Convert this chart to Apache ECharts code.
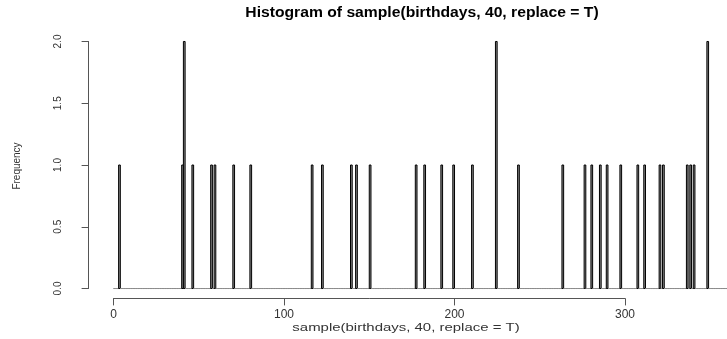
<!DOCTYPE html>
<html>
<head>
<meta charset="utf-8">
<script src="https://cdn.jsdelivr.net/npm/echarts@6/dist/echarts.min.js"></script>
<style>
  html, body { margin: 0; padding: 0; background: #fff; }
  #chart { width: 727px; height: 339px; }
</style>
</head>
<body>
<div id="chart"></div>
<script>
// Days drawn by sample(birthdays, 40, replace = T); a day drawn twice is listed twice
const sampledDays = [4, 41, 42, 42, 47, 58, 60, 71, 81, 117, 123, 140, 143, 151, 178, 183,
  193, 200, 211, 225, 225, 238, 264, 277, 281, 286, 290, 298, 308, 312, 321, 323,
  337, 339, 341, 349, 349];
// One histogram cell per day of the year, right-closed: (k, k + 1]
const firstBreak = 0;
const lastBreak = 365;
const xTicks = [0, 100, 200, 300];
const yTicks = [0, 0.5, 1, 1.5, 2];

const mainTitle = 'Histogram of sample(birthdays, 40, replace = T)';
const xLabel = 'sample(birthdays, 40, replace = T)';
const yLabel = 'Frequency';

// Count the draws in each cell
const cells = [];
for (let lo = firstBreak; lo < lastBreak; lo++) {
  const hi = lo + 1;
  const n = sampledDays.filter(d => d > lo && d <= hi).length;
  cells.push([lo, hi, n]);
}

const font = '"Liberation Sans", Arial, sans-serif';
const chart = echarts.init(document.getElementById('chart'), null, { renderer: 'canvas' });

chart.setOption({
  backgroundColor: '#ffffff',
  animation: false,
  grid: [
    // plotting region (R extends the data range by 4 %)
    { left: 88.6, right: 0, top: 31.6, bottom: 40.6 },
    // y axis, drawn from the first to the last tick
    { left: 88.6, width: 100, top: 41.5, height: 247 },
    // x axis, drawn from the first to the last tick
    { left: 113.5, width: 511.5, top: 31.6, bottom: 40.6 }
  ],
  xAxis: [
    { gridIndex: 0, type: 'value', min: -14.6, max: 359.8, show: false },
    { gridIndex: 1, type: 'value', min: 0, max: 1, show: false },
    {
      gridIndex: 2, type: 'value', min: xTicks[0], max: xTicks[xTicks.length - 1], interval: 100,
      position: 'bottom',
      axisLine: { show: true, lineStyle: { color: '#555', width: 1 } },
      axisTick: { show: true, inside: false, length: 7, lineStyle: { color: '#555' } },
      axisLabel: { show: true, margin: 10, color: '#333', fontFamily: font, fontSize: 12 },
      splitLine: { show: false }
    }
  ],
  yAxis: [
    { gridIndex: 0, type: 'value', min: -0.08, max: 2.08, show: false },
    {
      gridIndex: 1, type: 'value', min: yTicks[0], max: yTicks[yTicks.length - 1], interval: 0.5,
      position: 'left',
      axisLine: { show: true, lineStyle: { color: '#555', width: 1 } },
      axisTick: { show: true, inside: false, length: 7, lineStyle: { color: '#555' } },
      axisLabel: {
        show: true, rotate: 90, margin: 25, color: '#333', fontFamily: font, fontSize: 10,
        formatter: v => v.toFixed(1)
      },
      splitLine: { show: false }
    },
    { gridIndex: 2, type: 'value', min: 0, max: 1, show: false }
  ],
  // Titles in the margins, as R places them
  graphic: [
    {
      type: 'text', z: 10, x: 422, y: 6, scaleX: 1.12,
      style: { text: mainTitle, x: 0, y: 0, fill: '#000', font: 'bold 14px ' + font, align: 'center', verticalAlign: 'top' }
    },
    {
      type: 'text', z: 10, x: 406, y: 328, scaleX: 1.3,
      style: { text: xLabel, x: 0, y: 0, fill: '#333', font: '11.5px ' + font, align: 'center', verticalAlign: 'middle' }
    },
    {
      type: 'text', z: 10, x: 17, y: 166, rotation: Math.PI / 2,
      style: { text: yLabel, x: 0, y: 0, fill: '#333', font: '10px ' + font, align: 'center', verticalAlign: 'middle' }
    }
  ],
  series: [
    {
      type: 'custom',
      xAxisIndex: 0, yAxisIndex: 0,
      clip: true,
      data: cells,
      renderItem: function (params, api) {
        const lo = api.value(0), hi = api.value(1), n = api.value(2);
        const p0 = api.coord([lo, 0]);
        const p1 = api.coord([hi, n]);
        return {
          type: 'rect',
          shape: { x: p0[0], y: p1[1], width: p1[0] - p0[0], height: p0[1] - p1[1] },
          style: {
            fill: n > 0 ? '#8a8a8a' : 'none',
            stroke: n > 0 ? '#000' : '#8c8c8c',
            lineWidth: 1
          }
        };
      }
    }
  ]
});
</script>
</body>
</html>
